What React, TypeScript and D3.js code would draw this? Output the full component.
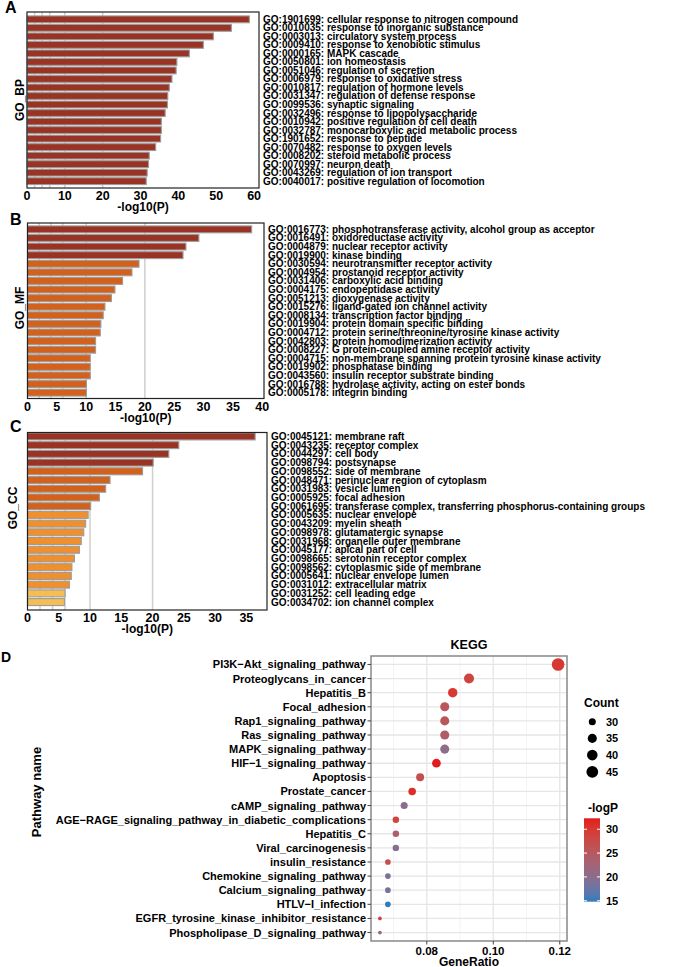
import React from "react";
import * as d3 from "d3";

const FONT = "'Liberation Sans', Arial, Helvetica, sans-serif";

// ---------- Panel A: GO_BP ----------
const bpTerms = [
  "GO:1901699: cellular response to nitrogen compound",
  "GO:0010035: response to inorganic substance",
  "GO:0003013: circulatory system process",
  "GO:0009410: response to xenobiotic stimulus",
  "GO:0000165: MAPK cascade",
  "GO:0050801: ion homeostasis",
  "GO:0051046: regulation of secretion",
  "GO:0006979: response to oxidative stress",
  "GO:0010817: regulation of hormone levels",
  "GO:0031347: regulation of defense response",
  "GO:0099536: synaptic signaling",
  "GO:0032496: response to lipopolysaccharide",
  "GO:0010942: positive regulation of cell death",
  "GO:0032787: monocarboxylic acid metabolic process",
  "GO:1901652: response to peptide",
  "GO:0070482: response to oxygen levels",
  "GO:0008202: steroid metabolic process",
  "GO:0070997: neuron death",
  "GO:0043269: regulation of ion transport",
  "GO:0040017: positive regulation of locomotion",
];
const bpValues = [58.75, 54.0, 49.25, 46.6, 42.9, 39.6, 39.4, 38.3, 37.6, 37.2, 37.1, 36.5, 35.5, 35.5, 35.3, 34.0, 32.3, 32.1, 31.75, 31.5];
const bpTicks = [0, 10, 20, 30, 40, 50, 60];

// ---------- Panel B: GO_MF ----------
const mfTerms = [
  "GO:0016773: phosphotransferase activity, alcohol group as acceptor",
  "GO:0016491: oxidoreductase activity",
  "GO:0004879: nuclear receptor activity",
  "GO:0019900: kinase binding",
  "GO:0030594: neurotransmitter receptor activity",
  "GO:0004954: prostanoid receptor activity",
  "GO:0031406: carboxylic acid binding",
  "GO:0004175: endopeptidase activity",
  "GO:0051213: dioxygenase activity",
  "GO:0015276: ligand-gated ion channel activity",
  "GO:0008134: transcription factor binding",
  "GO:0019904: protein domain specific binding",
  "GO:0004712: protein serine/threonine/tyrosine kinase activity",
  "GO:0042803: protein homodimerization activity",
  "GO:0008227: G protein-coupled amine receptor activity",
  "GO:0004715: non-membrane spanning protein tyrosine kinase activity",
  "GO:0019902: phosphatase binding",
  "GO:0043560: insulin receptor substrate binding",
  "GO:0016788: hydrolase activity, acting on ester bonds",
  "GO:0005178: integrin binding",
];
const mfValues = [38.2, 29.2, 27.0, 26.5, 19.0, 17.8, 16.2, 14.9, 14.3, 13.2, 12.9, 12.5, 12.4, 11.6, 11.6, 10.7, 10.7, 10.7, 10.05, 10.05];
const mfTicks = [0, 5, 10, 15, 20, 25, 30, 35, 40];

// ---------- Panel C: GO_CC ----------
const ccTerms = [
  "GO:0045121: membrane raft",
  "GO:0043235: receptor complex",
  "GO:0044297: cell body",
  "GO:0098794: postsynapse",
  "GO:0098552: side of membrane",
  "GO:0048471: perinuclear region of cytoplasm",
  "GO:0031983: vesicle lumen",
  "GO:0005925: focal adhesion",
  "GO:0061695: transferase complex, transferring phosphorus-containing groups",
  "GO:0005635: nuclear envelope",
  "GO:0043209: myelin sheath",
  "GO:0098978: glutamatergic synapse",
  "GO:0031968: organelle outer membrane",
  "GO:0045177: apical part of cell",
  "GO:0098665: serotonin receptor complex",
  "GO:0098562: cytoplasmic side of membrane",
  "GO:0005641: nuclear envelope lumen",
  "GO:0031012: extracellular matrix",
  "GO:0031252: cell leading edge",
  "GO:0034702: ion channel complex",
];
const ccValues = [36.4, 24.2, 22.6, 20.1, 18.4, 13.2, 12.5, 11.5, 10.1, 9.7, 9.3, 9.0, 8.6, 8.3, 7.5, 7.1, 7.0, 6.7, 6.0, 5.9];
const ccTicks = [0, 5, 10, 15, 20, 25, 30, 35];

const gridValues = [2, 4, 6, 10, 20];
const binEdges = [6.5, 10, 20];
const binColors = ["#f4be54", "#ef8f2d", "#d3611b", "#9a3324"];

// ---------- Panel D: KEGG ----------
const keggNames = [
  "PI3K\u2212Akt_signaling_pathway",
  "Proteoglycans_in_cancer",
  "Hepatitis_B",
  "Focal_adhesion",
  "Rap1_signaling_pathway",
  "Ras_signaling_pathway",
  "MAPK_signaling_pathway",
  "HIF\u22121_signaling_pathway",
  "Apoptosis",
  "Prostate_cancer",
  "cAMP_signaling_pathway",
  "AGE\u2212RAGE_signaling_pathway_in_diabetic_complications",
  "Hepatitis_C",
  "Viral_carcinogenesis",
  "insulin_resistance",
  "Chemokine_signaling_pathway",
  "Calcium_signaling_pathway",
  "HTLV\u2212I_infection",
  "EGFR_tyrosine_kinase_inhibitor_resistance",
  "Phospholipase_D_signaling_pathway",
];
const keggRatio = [0.1195, 0.0927, 0.0878, 0.0854, 0.0854, 0.0854, 0.0854, 0.0829, 0.078, 0.0756, 0.0732, 0.0707, 0.0707, 0.0707, 0.0683, 0.0683, 0.0683, 0.0683, 0.0659, 0.0659];
const keggCount = [49, 38, 36, 35, 35, 35, 35, 34, 32, 31, 30, 29, 29, 29, 28, 28, 28, 28, 27, 27];
const keggLogP = [30, 28.5, 30, 25.5, 25.5, 24, 20.5, 32.3, 27, 31, 20, 28.5, 23.5, 19.5, 27, 18.5, 18.5, 14.8, 29, 21];
const keggXTicks = [0.08, 0.1, 0.12];
const keggMinorTicks = [0.07, 0.09, 0.11];
const countLegend = [30, 35, 40, 45];
const logPLegend = [15, 20, 25, 30];

type BarCfg = {
  letter: string; letterX: number; letterY: number;
  title: string; titleX: number; titleY: number;
  left: number; right: number; xMax: number;
  boxTop: number; boxBottom: number; bandTop: number; bandBottom: number;
};

function BarPanel({ cfg, terms, values, ticks }: { cfg: BarCfg; terms: string[]; values: number[]; ticks: number[] }) {
  const x = d3.scaleLinear().domain([0, cfg.xMax]).range([cfg.left, cfg.right]);
  const y = d3.scaleBand().domain(terms).range([cfg.bandTop, cfg.bandBottom]).paddingInner(0.2).paddingOuter(0.05);
  const color = d3.scaleThreshold<number, string>().domain(binEdges).range(binColors);
  const cx = (cfg.left + cfg.right) / 2;
  return (
    <g>
      <text x={cfg.letterX} y={cfg.letterY} fontSize={16} fontWeight="bold" fontFamily={FONT}>{cfg.letter}</text>
      {gridValues.map((g) => (
        <line key={g} x1={x(g)} x2={x(g)} y1={cfg.boxTop} y2={cfg.boxBottom} stroke="#cfcfcf" strokeWidth={1.5} />
      ))}
      {terms.map((t, i) => (
        <rect key={t} x={x(0)} y={y(t)!} width={x(values[i]) - x(0)} height={y.bandwidth()}
          fill={color(values[i])} stroke="#9c9c9c" strokeWidth={1.1} />
      ))}
      <rect x={cfg.left} y={cfg.boxTop} width={cfg.right - cfg.left} height={cfg.boxBottom - cfg.boxTop}
        fill="none" stroke="#222" strokeWidth={1.2} />
      {ticks.map((t) => (
        <text key={t} x={x(t)} y={cfg.boxBottom + 8} textAnchor="middle" dominantBaseline="central"
          fontSize={12.5} fontWeight="bold" fontFamily={FONT}>{t}</text>
      ))}
      <text x={cx} y={cfg.boxBottom + 19} textAnchor="middle" dominantBaseline="central"
        fontSize={12} fontWeight="bold" fontFamily={FONT}>-log10(P)</text>
      <text transform={`translate(${cfg.titleX},${cfg.titleY}) rotate(-90)`} textAnchor="middle" dominantBaseline="central"
        fontSize={12} fontWeight="bold" fontFamily={FONT}>{cfg.title}</text>
      {terms.map((t) => (
        <text key={t} x={cfg.right + 4} y={y(t)! + y.bandwidth() / 2} dominantBaseline="central"
          fontSize={10} fontWeight="bold" fontFamily={FONT}>{t}</text>
      ))}
    </g>
  );
}

function KeggPanel() {
  const left = 371, right = 567, top = 656, bottom = 941;
  const [lo, hi] = d3.extent(keggRatio) as [number, number];
  const pad = (hi - lo) * 0.05;
  const x = d3.scaleLinear().domain([lo - pad, hi + pad]).range([left, right]);
  const y = d3.scalePoint<string>().domain(keggNames).range([top, bottom]).padding(0.6);
  const [cMin, cMax] = d3.extent(keggCount) as [number, number];
  const sizeT = d3.scaleLinear().domain([cMin, cMax]).range([0, 1]);
  const rS = d3.scaleSqrt().domain([0, 1]).range([1.9, 6.3]);
  const r = (v: number) => rS(sizeT(v));
  const cDomain: [number, number] = [14.8, 32.3];
  const color = d3.scaleLinear<string>().domain(cDomain).range(["#2e7dbd", "#e41a1c"]).interpolate(d3.interpolateLab);
  const cbTop = 818.3, cbBottom = 901.7, cbLeft = 584, cbW = 16;
  const cb = d3.scaleLinear().domain(cDomain).range([cbBottom, cbTop]);
  const stops = d3.range(0, 11).map((i) => i / 10);
  const cx = (left + right) / 2;
  return (
    <g fontFamily={FONT}>
      <defs>
        <linearGradient id="cbgrad" x1="0" y1="1" x2="0" y2="0">
          {stops.map((s) => (
            <stop key={s} offset={s} stopColor={color(cDomain[0] + s * (cDomain[1] - cDomain[0]))} />
          ))}
        </linearGradient>
      </defs>
      <text x={1} y={662} fontSize={14} fontWeight="bold">D</text>
      <text x={cx} y={645} textAnchor="middle" dominantBaseline="central" fontSize={12.5} fontWeight="bold">KEGG</text>
      <rect x={left} y={top} width={right - left} height={bottom - top} fill="#fff" />
      {keggMinorTicks.map((t) => (
        <line key={"m" + t} x1={x(t)} x2={x(t)} y1={top} y2={bottom} stroke="#efefef" strokeWidth={0.7} />
      ))}
      {keggXTicks.map((t) => (
        <line key={"M" + t} x1={x(t)} x2={x(t)} y1={top} y2={bottom} stroke="#e6e6e6" strokeWidth={1.3} />
      ))}
      {keggNames.map((n) => (
        <line key={"h" + n} x1={left} x2={right} y1={y(n)!} y2={y(n)!} stroke="#e6e6e6" strokeWidth={1.3} />
      ))}
      {keggNames.map((n, i) => (
        <circle key={"c" + n} cx={x(keggRatio[i])} cy={y(n)!} r={r(keggCount[i])} fill={color(keggLogP[i])} />
      ))}
      <rect x={left} y={top} width={right - left} height={bottom - top} fill="none" stroke="#888" strokeWidth={1.5} />
      {keggNames.map((n) => (
        <g key={"t" + n}>
          <line x1={left - 3.5} x2={left} y1={y(n)!} y2={y(n)!} stroke="#444" strokeWidth={1} />
          <text x={left - 5} y={y(n)!} textAnchor="end" dominantBaseline="central" fontSize={11} fontWeight="bold">{n}</text>
        </g>
      ))}
      {keggXTicks.map((t) => (
        <g key={"xt" + t}>
          <line x1={x(t)} x2={x(t)} y1={bottom} y2={bottom + 3.5} stroke="#444" strokeWidth={1} />
          <text x={x(t)} y={bottom + 10} textAnchor="middle" dominantBaseline="central" fontSize={11.5} fontWeight="bold">
            {d3.format(".2f")(t)}
          </text>
        </g>
      ))}
      <text x={cx} y={961.5} textAnchor="middle" dominantBaseline="central" fontSize={12} fontWeight="bold">GeneRatio</text>
      <text transform="translate(36,792) rotate(-90)" textAnchor="middle" dominantBaseline="central" fontSize={13} fontWeight="bold">
        Pathway name
      </text>
      {/* Count legend */}
      <text x={584} y={707} fontSize={12} fontWeight="bold">Count</text>
      {countLegend.map((c, i) => (
        <g key={"cl" + c}>
          <circle cx={592.3} cy={721.7 + i * 16.7} r={r(c)} fill="#000" />
          <text x={606} y={721.7 + i * 16.7} dominantBaseline="central" fontSize={11} fontWeight="bold">{c}</text>
        </g>
      ))}
      {/* -logP legend */}
      <text x={588} y={812} fontSize={12} fontWeight="bold">-logP</text>
      <rect x={cbLeft} y={cbTop} width={cbW} height={cbBottom - cbTop} fill="url(#cbgrad)" />
      {logPLegend.map((v) => (
        <g key={"lp" + v}>
          <line x1={cbLeft} x2={cbLeft + 3} y1={cb(v)} y2={cb(v)} stroke="#fff" strokeWidth={1} />
          <line x1={cbLeft + cbW - 3} x2={cbLeft + cbW} y1={cb(v)} y2={cb(v)} stroke="#fff" strokeWidth={1} />
          <text x={606} y={cb(v)} dominantBaseline="central" fontSize={11} fontWeight="bold">{v}</text>
        </g>
      ))}
    </g>
  );
}

const cfgA: BarCfg = {
  letter: "A", letterX: 5, letterY: 13, title: "GO_BP", titleX: 20, titleY: 100,
  left: 27, right: 259, xMax: 61.3, boxTop: 12, boxBottom: 188, bandTop: 15.5, bandBottom: 185,
};
const cfgB: BarCfg = {
  letter: "B", letterX: 10, letterY: 225, title: "GO_MF", titleX: 20, titleY: 308,
  left: 27.5, right: 264, xMax: 40.3, boxTop: 223, boxBottom: 398.5, bandTop: 225.5, bandBottom: 396.5,
};
const cfgC: BarCfg = {
  letter: "C", letterX: 10, letterY: 432, title: "GO_CC", titleX: 13, titleY: 508,
  left: 27.5, right: 267, xMax: 38.3, boxTop: 432.5, boxBottom: 610, bandTop: 432.5, bandBottom: 606,
};

export default function App() {
  return (
    <svg width={677} height={967} style={{ position: "absolute", left: 0, top: 0, background: "#fff" }}>
      <rect x={0} y={0} width={677} height={967} fill="#fff" />
      <BarPanel cfg={cfgA} terms={bpTerms} values={bpValues} ticks={bpTicks} />
      <BarPanel cfg={cfgB} terms={mfTerms} values={mfValues} ticks={mfTicks} />
      <BarPanel cfg={cfgC} terms={ccTerms} values={ccValues} ticks={ccTicks} />
      <KeggPanel />
    </svg>
  );
}
